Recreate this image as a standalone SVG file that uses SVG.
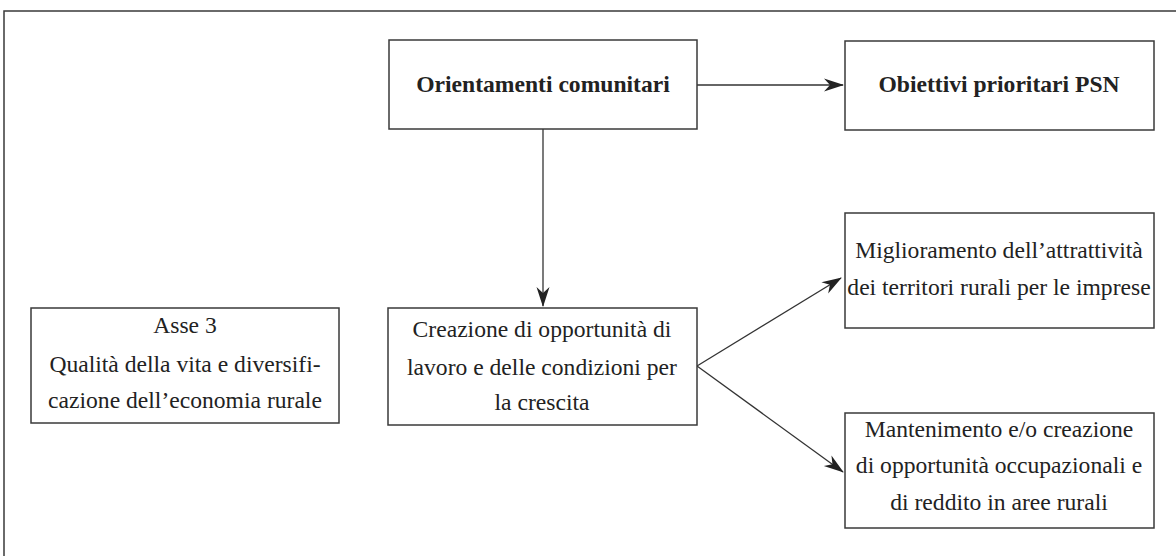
<svg xmlns="http://www.w3.org/2000/svg" width="1176" height="556" viewBox="0 0 1176 556">
<style>
  .box { fill: #ffffff; stroke: #3a3a3a; stroke-width: 1.5; }
  .frame { fill: none; stroke: #3a3a3a; stroke-width: 1.5; }
  .conn { fill: none; stroke: #333333; stroke-width: 1.3; }
  .t { font-family: "Liberation Serif", "Times New Roman", serif; font-size: 23.6px; fill: #222222; text-anchor: middle; }
  .b { font-weight: bold; }
</style>
<defs>
  <marker id="ah" markerWidth="22" markerHeight="14" refX="19" refY="7" orient="auto" markerUnits="userSpaceOnUse">
    <path d="M0,0.5 L20,7 L0,13.5 L6,7 Z" fill="#222222"/>
  </marker>
</defs>
<rect width="1176" height="556" fill="#ffffff"/>
<rect class="frame" x="4" y="11" width="1190" height="560"/>

<g id="connectors">
  <line class="conn" x1="697" y1="85" x2="843" y2="85" marker-end="url(#ah)"/>
  <line class="conn" x1="543" y1="129" x2="543" y2="306" marker-end="url(#ah)"/>
  <line class="conn" x1="697" y1="366" x2="841" y2="278" marker-end="url(#ah)"/>
  <line class="conn" x1="697" y1="366" x2="843" y2="472" marker-end="url(#ah)"/>
</g>

<g id="orientamenti">
  <rect class="box" x="389" y="40" width="308" height="89"/>
  <text class="t b" x="543" y="92">Orientamenti comunitari</text>
</g>

<g id="obiettivi">
  <rect class="box" x="845" y="41" width="309" height="89"/>
  <text class="t b" x="999" y="92">Obiettivi prioritari PSN</text>
</g>

<g id="asse3">
  <rect class="box" x="31" y="308" width="308" height="115"/>
  <text class="t" x="185" y="333">Asse 3</text>
  <text class="t" x="185" y="372">Qualità della vita e diversifi-</text>
  <text class="t" x="185" y="408">cazione dell’economia rurale</text>
</g>

<g id="creazione">
  <rect class="box" x="388" y="308" width="309" height="117"/>
  <text class="t" x="542" y="337">Creazione di opportunità di</text>
  <text class="t" x="542" y="375">lavoro e delle condizioni per</text>
  <text class="t" x="542" y="410">la crescita</text>
</g>

<g id="miglioramento">
  <rect class="box" x="845" y="213" width="309" height="115"/>
  <text class="t" x="999" y="258">Miglioramento dell’attrattività</text>
  <text class="t" x="999" y="295">dei territori rurali per le imprese</text>
</g>

<g id="mantenimento">
  <rect class="box" x="845" y="413" width="309" height="115"/>
  <text class="t" x="999" y="437">Mantenimento e/o creazione</text>
  <text class="t" x="999" y="473">di opportunità occupazionali e</text>
  <text class="t" x="999" y="510">di reddito in aree rurali</text>
</g>
</svg>
